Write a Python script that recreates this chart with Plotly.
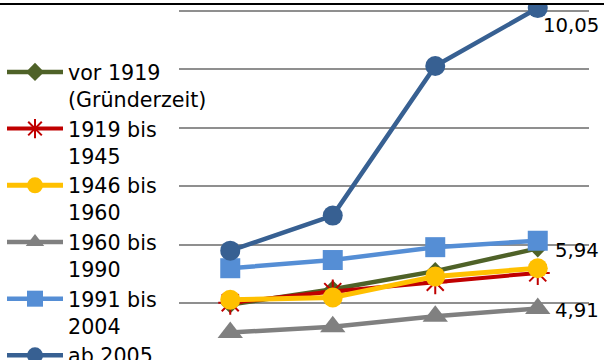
import plotly.graph_objects as go

# Four survey points along the x axis (no tick labels shown)
positions = [1, 2, 3, 4]

series_names = [
    "vor 1919<br>(Gründerzeit)",
    "1919 bis<br>1945",
    "1946 bis<br>1960",
    "1960 bis<br>1990",
    "1991 bis<br>2004",
    "ab 2005",
]

vor_1919 = [4.98, 5.24, 5.55, 5.94]
bis_1945 = [5.01, 5.20, 5.36, 5.52]
bis_1960 = [5.06, 5.10, 5.46, 5.60]
bis_1990 = [4.50, 4.60, 4.78, 4.91]
bis_2004 = [5.60, 5.74, 5.96, 6.07]
ab_2005 = [5.90, 6.50, 9.06, 10.05]

values = [vor_1919, bis_1945, bis_1960, bis_1990, bis_2004, ab_2005]

colors = ["#4F6228", "#C00000", "#FFC000", "#808080", "#558ED5", "#376092"]
symbols = ["diamond", "asterisk-open", "circle", "triangle-up", "square", "circle"]
sizes = [14, 20, 20, 22, 20, 20]
widths = [4.5, 4, 5, 4.5, 4.5, 4.5]

FONT = "DejaVu Sans, Liberation Sans, Arial, sans-serif"
W, H = 604, 360

fig = go.Figure()
for name, vals, col, sym, sz, lw in zip(series_names, values, colors, symbols, sizes, widths):
    marker = dict(symbol=sym, size=sz, color=col)
    if sym == "asterisk-open":
        marker["line"] = dict(color=col, width=2)
    else:
        marker["line"] = dict(width=0)
    fig.add_trace(go.Scatter(
        x=positions, y=vals, name=name, mode="lines+markers",
        line=dict(color=col, width=lw), marker=marker,
        cliponaxis=True,
    ))

# Black rule across the top, drawn in a full-figure pixel frame
fig.add_trace(go.Scatter(
    x=[0, W], y=[H - 4, H - 4], mode="lines", xaxis="x2", yaxis="y2",
    line=dict(color="#000000", width=2), showlegend=False, hoverinfo="skip",
))

# Value labels at the last point of three series
def fmt(v):
    return f"{v:.2f}".replace(".", ",")

label_specs = [
    (ab_2005, 3, -17),
    (vor_1919, 15, -2),
    (bis_1990, 15, -2),
]
for vals, dx, dy in label_specs:
    fig.add_annotation(
        x=positions[-1], y=vals[-1], text=fmt(vals[-1]), showarrow=False,
        xanchor="left", yanchor="middle", xshift=dx, yshift=dy,
        font=dict(family=FONT, size=19.7, color="#000000"),
    )

fig.update_layout(
    width=W, height=H,
    margin=dict(l=0, r=0, t=0, b=0, autoexpand=False),
    paper_bgcolor="white", plot_bgcolor="rgba(0,0,0,0)",
    showlegend=True,
    legend=dict(
        x=2 / W, y=1 - 52 / H, xanchor="left", yanchor="top",
        font=dict(family=FONT, size=20.65, color="#000000"),
        bgcolor="rgba(0,0,0,0)", borderwidth=0, maxheight=800,
        itemwidth=56, valign="top", tracegroupgap=0,
    ),
    xaxis=dict(domain=[179 / W, 589 / W], range=[0.5, 4.5], visible=False,
               anchor="y"),
    yaxis=dict(domain=[0, 355 / H], range=[4.030, 10.1026], dtick=1,
               showgrid=True, gridcolor="#8F8F8F", gridwidth=1.5,
               zeroline=False, showticklabels=False, ticks="",
               showline=False, anchor="x"),
    xaxis2=dict(domain=[0, 1], range=[0, W], anchor="y2", visible=False),
    yaxis2=dict(domain=[0, 1], range=[0, H], anchor="x2", visible=False),
)

fig.write_html("out.html")
